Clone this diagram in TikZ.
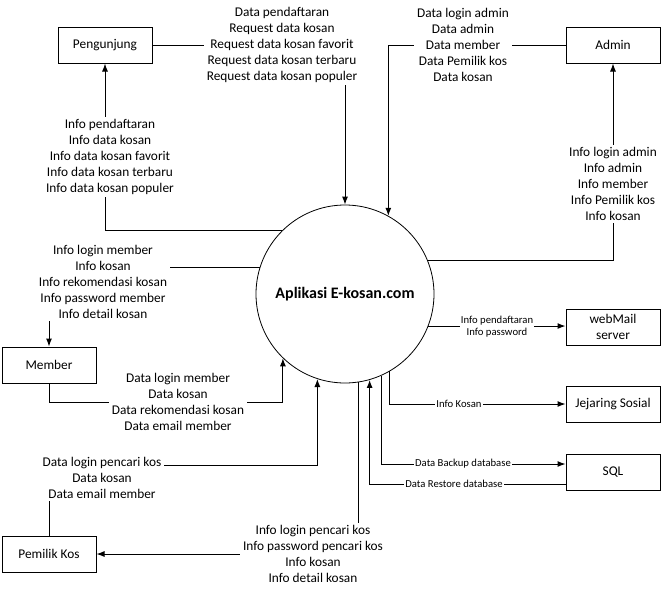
\documentclass[tikz,border=0pt]{standalone}
\usepackage{fontspec}
\setmainfont{Carlito}
\usetikzlibrary{arrows.meta}

\begin{document}
\begin{tikzpicture}[>={Latex[length=6pt,width=4.5pt]},x=0.75pt,y=-0.75pt]
    \tikzstyle{ent}=[rectangle,draw=black,line width=0.75pt,minimum width=70.5pt,minimum height=27pt,inner sep=0pt,align=center,font=\fontsize{10}{12}\selectfont]
    \tikzstyle{flow}=[align=center,fill=white,inner sep=2pt,font=\fontsize{10}{12}\selectfont]
    \tikzstyle{sflow}=[align=center,fill=white,inner sep=1pt,font=\fontsize{8}{9}\selectfont]
    \tikzstyle{link}=[draw=black,line width=0.75pt]

    \useasboundingbox (0,0) rectangle (665,593);

    \node[circle,draw=black,line width=0.6pt,minimum size=133.5pt,inner sep=0pt,font=\fontsize{12}{14}\selectfont\bfseries](app) at (345,294){Aplikasi E-kosan.com};
    \node[ent](peng) at (105,45){Pengunjung};
    \node[ent](adm) at (613,45){Admin};
    \node[ent](memb) at (49,365){Member};
    \node[ent](pemilik) at (49,554){Pemilik Kos};
    \node[ent](mail) at (613,327){webMail\\server};
    \node[ent](sosial) at (613,404){Jejaring Sosial};
    \node[ent](sql) at (613,472){SQL};

    \draw[link,->] (peng.east) -| (app.north);
    \draw[link,->] (app.135) -| (peng.south);
    \draw[link,->] (adm.west) -| (app.61);
    \draw[link,->] (app.22.5) -| (adm.south);
    \draw[link,->] (app.163.7) -| (memb.north);
    \draw[link,->] (memb.south) -- ++(0,19) -| (app.226);
    \draw[link,->] (pemilik.north) -- ++(0,-70) -| (app.252.3);
    \draw[link,->] (app.-81) |- (pemilik.east);
    \draw[link,->] (app.-21.8) -- (app.-21.8 -| mail.west);
    \draw[link,->] (app.-60.4) |- (sosial.west);
    \draw[link,->] (app.-66.1) |- ([yshift=6pt]sql.west);
    \draw[link,->] ([yshift=-9pt]sql.west) -| (app.-74.4);

    \node[flow](lpengin) at (282,45){Data pendaftaran\\Request data kosan\\Request data kosan favorit\\Request data kosan terbaru\\Request data kosan populer};
    \node[flow](lpengout) at (110,157){Info pendaftaran\\Info data kosan\\Info data kosan favorit\\Info data kosan terbaru\\Info data kosan populer};
    \node[flow](ladmin) at (463,45){Data login admin\\Data admin\\Data member\\Data Pemilik kos\\Data kosan};
    \node[flow](ladmout) at (613,184){Info login admin\\Info admin\\Info member\\Info Pemilik kos\\Info kosan};
    \node[flow](lmembout) at (103,282){Info login member\\Info kosan\\Info rekomendasi kosan\\Info password member\\Info detail kosan};
    \node[flow](lmembin) at (178,402){Data login member\\Data kosan\\Data rekomendasi kosan\\Data email member};
    \node[flow](lpemin) at (102,478){Data login pencari kos\\Data kosan\\Data email member};
    \node[flow](lpemout) at (313,554){Info login pencari kos\\Info password pencari kos\\Info kosan\\Info detail kosan};
    \node[sflow](lmail) at (497,327){Info pendaftaran\\Info password};
    \node[sflow](lsosial) at (459,404){Info Kosan};
    \node[sflow](lbackup) at (463,464){Data Backup database};
    \node[sflow](lrestore) at (454,484){Data Restore database};
\end{tikzpicture}
\end{document}
